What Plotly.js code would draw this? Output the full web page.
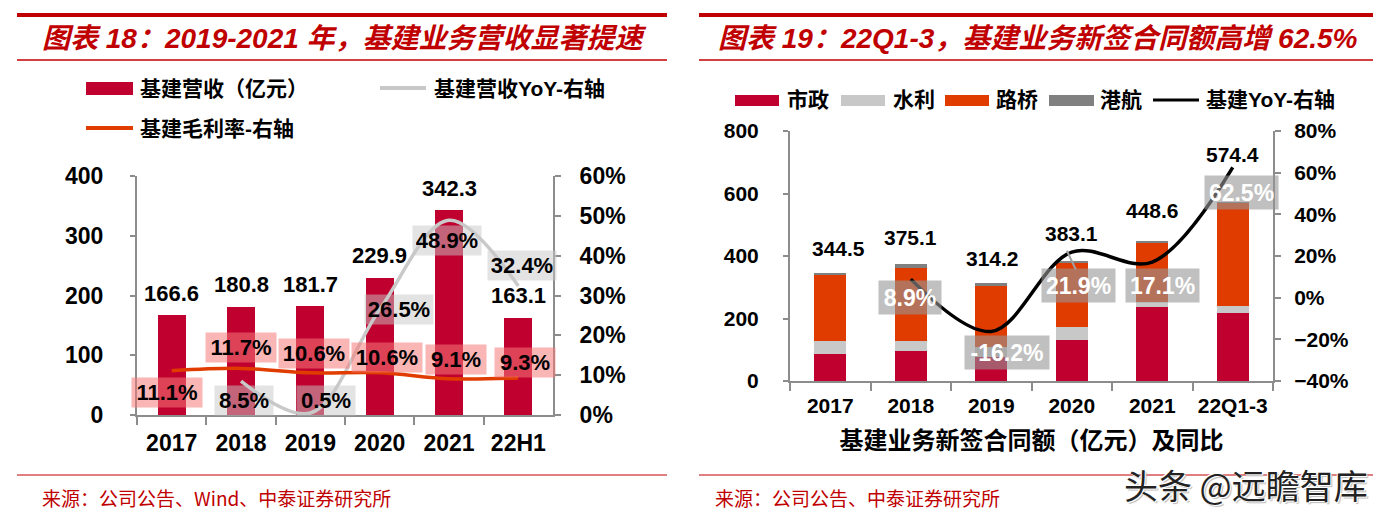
<!DOCTYPE html>
<html><head><meta charset="utf-8">
<script src="https://cdn.plot.ly/plotly-3.0.1.min.js"></script>
<style>html,body{margin:0;padding:0;background:#fff}#chart{width:1392px;height:519px}</style>
</head><body><div id="chart"></div>
<script>
// ---------- data: chart 18 ----------
const cats1 = ['2017','2018','2019','2020','2021','22H1'];
const revenue = [166.6,180.8,181.7,229.9,342.3,163.1];
const revYoY = [null,8.5,0.5,26.5,48.9,32.4];
const grossMargin = [11.1,11.7,10.6,10.6,9.1,9.3];
// ---------- data: chart 19 ----------
const cats2 = ['2017','2018','2019','2020','2021','22Q1-3'];
const shizheng = [88,95,76,131,238,218.6];
const shuili = [40,32,32,41,16,22.4];
const luqiao = [212,235,196,206.6,188,327.6];
const ganghang = [4.5,13.1,10.2,4.5,6.6,5.8];
const totals2 = [344.5,375.1,314.2,383.1,448.6,574.4];
const infraYoY = [null,8.9,-16.2,21.9,17.1,62.5];

// ---------- label placement (style) ----------
const yoyLblOff1 = [null,[0.05,-19],[0.23,13],[0.28,0],[-0.03,-20],[0.06,20]];
const gmLblOff1 = [[-0.07,-22],[0,21],[0.06,19],[0.1,15],[0.1,19],[0.1,15]];
const totLblOff2 = [[0.1,25],[0,26],[0.02,24],[0,28],[0,30],[0,47]];
const yoyLblOff2 = [null,[-0.01,-18],[0.19,-21],[0.08,-33],[0.13,-23],[0.11,-25]];

const W=1392,H=519;
const px=x=>x/W, py=y=>1-y/H;
const NUM='Liberation Sans Narrow, Liberation Sans, Arial, sans-serif';
const NUMW='Liberation Sans, Arial, Noto Sans CJK SC, sans-serif';
const CJK='Noto Sans CJK SC, sans-serif';
const RED='#C0002F', ORANGE='#E03C00', LGRAY='#C8C8C8', DGRAY='#808080', TRED='#C00000', AX='#8C8C8C';

const traces=[
 {type:'bar',x:cats1,y:revenue,xaxis:'x',yaxis:'y',marker:{color:RED},name:'基建营收（亿元）'},
 {type:'scatter',mode:'lines',x:cats1,y:revYoY,xaxis:'x',yaxis:'y2',line:{color:'#C9C9C9',width:3.5,shape:'spline',smoothing:1},name:'基建营收YoY-右轴'},
 {type:'scatter',mode:'lines',x:cats1,y:grossMargin,xaxis:'x',yaxis:'y2',line:{color:ORANGE,width:3.5,shape:'spline',smoothing:1},name:'基建毛利率-右轴'},
 {type:'bar',x:cats2,y:shizheng,xaxis:'x2',yaxis:'y3',marker:{color:RED},name:'市政'},
 {type:'bar',x:cats2,y:shuili,xaxis:'x2',yaxis:'y3',marker:{color:LGRAY},name:'水利'},
 {type:'bar',x:cats2,y:luqiao,xaxis:'x2',yaxis:'y3',marker:{color:ORANGE},name:'路桥'},
 {type:'bar',x:cats2,y:ganghang,xaxis:'x2',yaxis:'y3',marker:{color:DGRAY},name:'港航'},
 {type:'scatter',mode:'lines',x:cats2,y:infraYoY,xaxis:'x2',yaxis:'y4',line:{color:'#000',width:3.5,shape:'spline',smoothing:1},name:'基建YoY-右轴'}
];

const ann=[];
const T=(x,y,text,font,extra)=>ann.push(Object.assign({xref:'paper',yref:'paper',x:px(x),y:py(y),text,showarrow:false,xanchor:'left',yanchor:'middle',font},extra||{}));
// titles
T(40,38,'图表 18：2019-2021 年，基建业务营收显著提速',{family:NUMW,size:28,color:TRED,weight:'bold',style:'italic'});
T(716,38,'图表 19：22Q1-3，基建业务新签合同额高增 62.5%',{family:NUMW,size:28,color:TRED,weight:'bold',style:'italic'});
// legends
const LF={family:NUMW,size:21,color:'#000',weight:'bold'};
T(138,88,'基建营收（亿元）',LF); T(432,88,'基建营收YoY-右轴',LF); T(138,128,'基建毛利率-右轴',LF);
T(785,100,'市政',LF); T(891,100,'水利',LF); T(994,100,'路桥',LF); T(1098,100,'港航',LF); T(1204,100,'基建YoY-右轴',LF);
// sources
T(40,497,'来源：公司公告、Wind、中泰证券研究所',{family:CJK,size:19,color:TRED});
T(713,497,'来源：公司公告、中泰证券研究所',{family:CJK,size:19,color:TRED});
// watermark
T(1122,484,'头条 @远瞻智库',{family:CJK,size:34,color:'#222',shadow:'1px 1px 0 #fff, -1px -1px 0 #fff, 2px 2px 1px #bbb'});

// chart 18 value labels
revenue.forEach((v,i)=>ann.push({xref:'x',yref:'y',x:i,y:v,yshift:22,text:v.toFixed(1),showarrow:false,font:{family:NUM,size:22,color:'#000',weight:'bold'}}));
revYoY.forEach((v,i)=>{ if(v===null) return; const o=yoyLblOff1[i]; const t=v.toFixed(1)+'%';
 ann.push({xref:'x',yref:'y2',x:i+o[0],y:v,yshift:o[1],text:t,showarrow:false,bgcolor:'rgba(200,200,200,0.5)',borderpad:3,width:t.length*10+12,height:23,font:{family:NUM,size:22,color:'#000',weight:'bold'}});});
grossMargin.forEach((v,i)=>{ const o=gmLblOff1[i]; const t=v.toFixed(1)+'%';
 ann.push({xref:'x',yref:'y2',x:i+o[0],y:v,yshift:o[1],text:t,showarrow:false,bgcolor:'rgba(245,120,120,0.55)',borderpad:3,width:t.length*10+14,height:23,font:{family:NUM,size:22,color:'#000',weight:'bold'}});});
// chart 19 labels
totals2.forEach((v,i)=>{const o=totLblOff2[i]; ann.push({xref:'x2',yref:'y3',x:i+o[0],y:v,yshift:o[1],text:v.toFixed(1),showarrow:false,font:{family:NUM,size:21,color:'#000',weight:'bold'}});});
infraYoY.forEach((v,i)=>{ if(v===null) return; const o=yoyLblOff2[i]; const t=v.toFixed(1)+'%';
 ann.push({xref:'x2',yref:'y4',x:i+o[0],y:v,yshift:o[1],text:t,showarrow:false,bgcolor:'rgba(150,150,150,0.6)',borderpad:4,width:t.length*11+10,height:25,font:{family:NUM,size:23,color:'#fff',weight:'bold'}});});

const shapes=[];
const L=(x0,y0,x1,y1,color,w)=>shapes.push({type:'line',xref:'paper',yref:'paper',x0:px(x0),y0:py(y0),x1:px(x1),y1:py(y1),line:{color,width:w}});
const R=(x0,y0,x1,y1,color)=>shapes.push({type:'rect',xref:'paper',yref:'paper',x0:px(x0),y0:py(y0),x1:px(x1),y1:py(y1),fillcolor:color,line:{width:0}});
L(17,15,667,15,TRED,4); L(17,60,667,60,TRED,1.5); L(17,475,667,475,TRED,1.2);
L(699,15,1373,15,TRED,4); L(699,60,1373,60,TRED,1.5); L(699,475,1373,475,TRED,1.2);
R(86,82,133,95,RED); L(380,88,426,88,'#C8C8C8',4); L(86,128,133,128,ORANGE,4);
R(735,95,779,106,RED); R(841,95,885,106,LGRAY); R(945,95,989,106,ORANGE); R(1049,95,1094,106,DGRAY); L(1153,100,1199,100,'#000',3);
shapes.push({type:'line',xref:'x2',yref:'y4',x0:2.94,y0:22.5,x1:3.05,y1:13.5,line:{color:'#A0A0A0',width:2}});

const tf=(s)=>({family:NUM,size:s,color:'#000',weight:'bold'});
const baseAx={showgrid:false,zeroline:false,showline:true,linecolor:AX,linewidth:2,ticks:'outside',tickcolor:AX,tickwidth:2,fixedrange:true};
const layout={
 width:W,height:H,margin:{l:0,r:0,t:0,b:0},paper_bgcolor:'#fff',plot_bgcolor:'rgba(0,0,0,0)',
 showlegend:false,hovermode:false,barmode:'stack',bargap:0.6,
 xaxis:Object.assign({},baseAx,{domain:[px(137),px(553)],anchor:'y',type:'category',range:[-0.5,5.5],tickson:'boundaries',ticklen:8,tickfont:tf(23),ticklabelstandoff:6}),
 yaxis:Object.assign({},baseAx,{domain:[py(415),py(176)],anchor:'x',range:[0,400],dtick:100,ticklen:5,tickfont:tf(23),ticklabelstandoff:22}),
 yaxis2:Object.assign({},baseAx,{overlaying:'y',side:'right',anchor:'x',range:[0,60],dtick:10,ticksuffix:'%',ticklen:6,tickfont:tf(23),ticklabelstandoff:14}),
 xaxis2:Object.assign({},baseAx,{domain:[px(790),px(1273)],anchor:'y3',type:'category',range:[-0.5,5.5],tickson:'boundaries',ticklen:8,tickfont:tf(21),ticklabelstandoff:5,
   title:{text:'基建业务新签合同额（亿元）及同比',font:{family:CJK,size:24,color:'#000',weight:'bold'},standoff:16}}),
 yaxis3:Object.assign({},baseAx,{domain:[py(381),py(131)],anchor:'x2',range:[0,800],dtick:200,ticklen:5,tickfont:tf(21),ticklabelstandoff:20}),
 yaxis4:Object.assign({},baseAx,{overlaying:'y3',side:'right',anchor:'x2',range:[-40,80],dtick:20,ticksuffix:'%',ticklen:6,tickfont:tf(21),ticklabelstandoff:9}),
 annotations:ann,shapes:shapes
};
Plotly.newPlot('chart',traces,layout,{displayModeBar:false,staticPlot:true});
</script></body></html>
